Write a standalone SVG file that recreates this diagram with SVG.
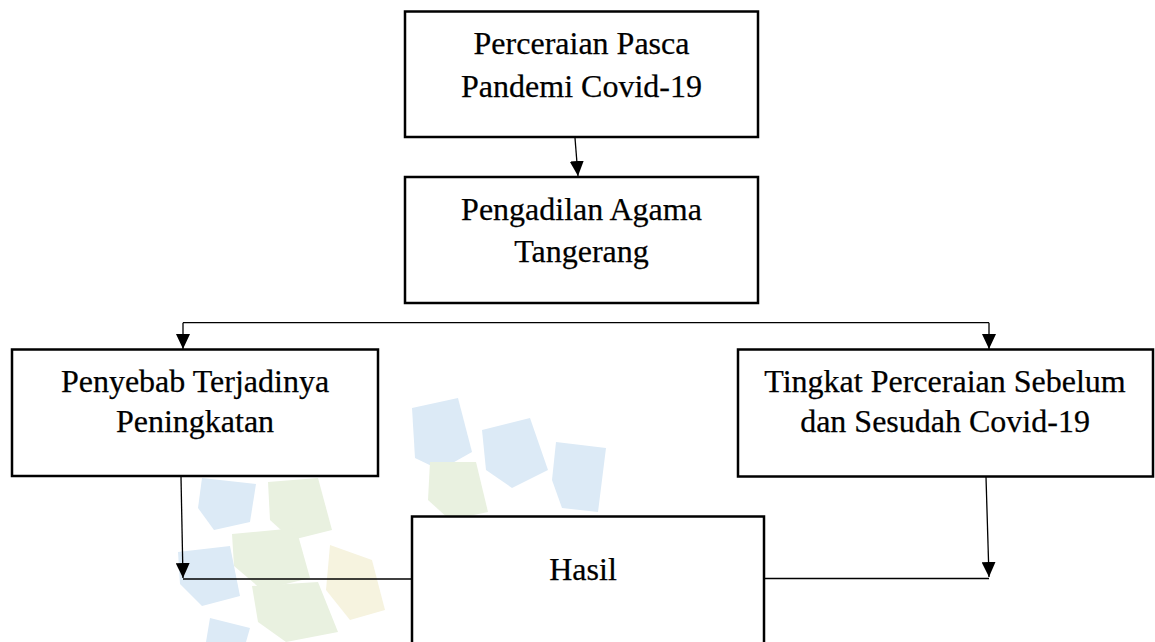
<svg xmlns="http://www.w3.org/2000/svg" width="1155" height="642" viewBox="0 0 1155 642">
  <style>
    .box { fill: #ffffff; stroke: #000000; stroke-width: 2.5; }
    .lbl { font-family: "Liberation Serif", "Times New Roman", serif; font-size: 32px; fill: #000000; stroke: #000000; stroke-width: 0.25; text-anchor: middle; }
    .conn { fill: none; stroke: #000000; stroke-width: 1.3; }
    .wb { fill: #dceaf6; }
    .wg { fill: #e9f1e0; }
    .wy { fill: #f6f3df; }
  </style>
  <defs>
    <marker id="arr" markerUnits="userSpaceOnUse" markerWidth="15" markerHeight="14" refX="15" refY="7" orient="auto">
      <path d="M0,0 L15,7 L0,14 z" fill="#000000"/>
    </marker>
  </defs>
  <rect width="1155" height="642" fill="#ffffff"/>
  <g id="watermark">
    <polygon class="wb" points="412,408 458,398 472,452 440,470 415,458"/>
    <polygon class="wb" points="482,430 530,418 548,470 512,488 486,470"/>
    <polygon class="wb" points="556,442 606,448 598,512 562,508 552,480"/>
    <polygon class="wg" points="430,462 476,462 488,512 450,520 428,500"/>
    <polygon class="wg" points="268,482 318,478 332,530 292,540 270,520"/>
    <polygon class="wb" points="202,478 256,484 250,522 214,530 198,508"/>
    <polygon class="wg" points="232,534 296,528 310,578 262,590 234,566"/>
    <polygon class="wb" points="178,552 230,546 240,596 202,606 180,584"/>
    <polygon class="wg" points="252,586 318,582 338,632 286,642 258,622"/>
    <polygon class="wy" points="330,545 372,560 385,610 350,620 326,590"/>
    <polygon class="wb" points="210,618 250,628 246,642 206,642"/>
  </g>
  <g id="connectors">
    <path class="conn" d="M575,138 L578,176" marker-end="url(#arr)"/>
    <path class="conn" d="M183,322.7 H989"/>
    <path class="conn" d="M183,322.7 V349" marker-end="url(#arr)"/>
    <path class="conn" d="M989,322.7 V349" marker-end="url(#arr)"/>
    <path class="conn" d="M181,477 L183,578" marker-end="url(#arr)"/>
    <path class="conn" d="M183,579 H412"/>
    <path class="conn" d="M986,477 L989,577" marker-end="url(#arr)"/>
    <path class="conn" d="M758,578.5 H989"/>
  </g>
  <g id="node-perceraian">
    <rect class="box" x="405" y="11.5" width="353" height="125.5"/>
    <text class="lbl" x="581.5" y="54">Perceraian Pasca</text>
    <text class="lbl" x="581.5" y="97">Pandemi Covid-19</text>
  </g>
  <g id="node-pengadilan">
    <rect class="box" x="405" y="177" width="353" height="126"/>
    <text class="lbl" x="581.5" y="220">Pengadilan Agama</text>
    <text class="lbl" x="581.5" y="262">Tangerang</text>
  </g>
  <g id="node-penyebab">
    <rect class="box" x="12" y="349.5" width="366" height="126.5"/>
    <text class="lbl" x="195" y="392">Penyebab Terjadinya</text>
    <text class="lbl" x="195" y="432">Peningkatan</text>
  </g>
  <g id="node-tingkat">
    <rect class="box" x="738" y="349.5" width="415" height="127"/>
    <text class="lbl" x="945" y="392">Tingkat Perceraian Sebelum</text>
    <text class="lbl" x="945" y="432">dan Sesudah Covid-19</text>
  </g>
  <g id="node-hasil">
    <rect class="box" x="412" y="516.5" width="352" height="140"/>
    <text class="lbl" x="583" y="580">Hasil</text>
  </g>
</svg>
